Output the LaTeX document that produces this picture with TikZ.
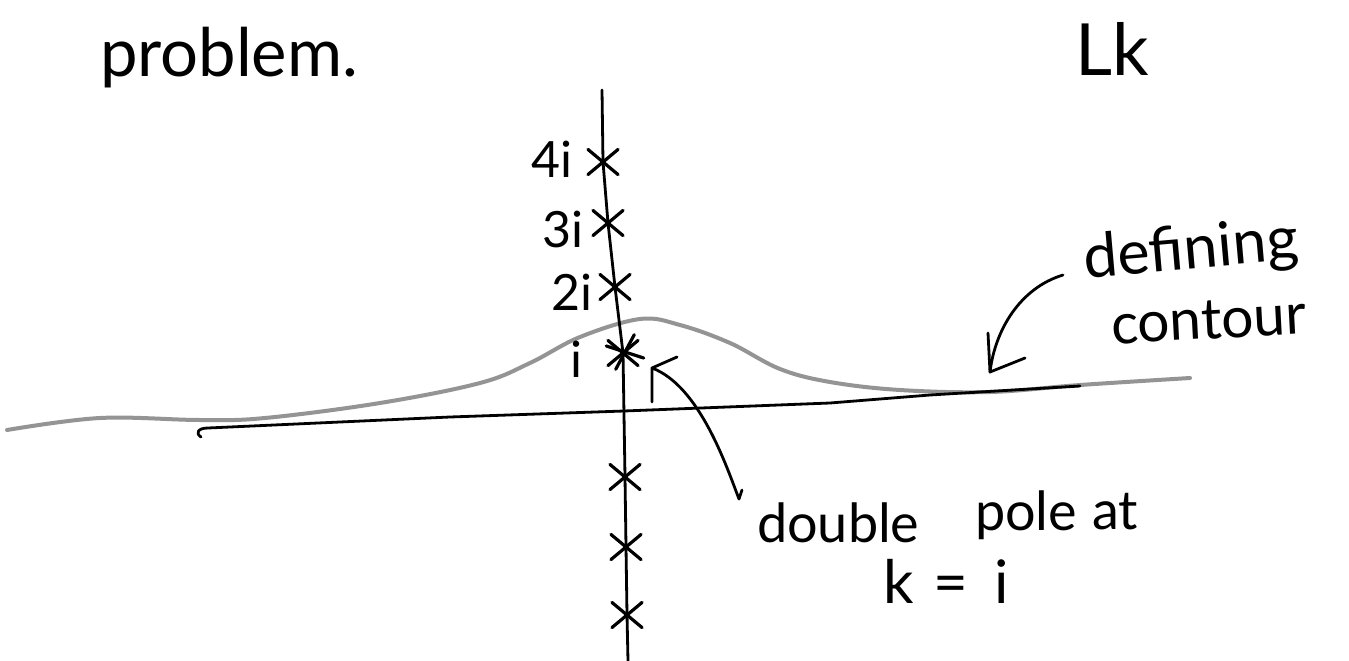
\documentclass[tikz,border=0pt]{standalone}
\usepackage{fontspec}
\setmainfont{Lato}
\usetikzlibrary{shapes.misc}
\tikzset{
  ink/.style={line width=2.8pt, line cap=round, line join=round, draw=black},
  txt/.style={inner sep=0pt, outer sep=0pt, text=black},
  lab/.style={txt, font=\fontsize{50}{50}\selectfont},
  polemark/.style={cross out, draw=black, line width=3.2pt, line cap=round,
    minimum width=27pt, minimum height=22pt, inner sep=0pt},
  contourline/.style={line width=4pt, draw=black!42, line cap=round, line join=round},
}
\begin{document}
\begin{tikzpicture}[x=1pt,y=-1pt]
\useasboundingbox (0,0) rectangle (1349,661);
\fill[white] (0,0) rectangle (1349,661);

% header texts
\node[txt, anchor=base west, font=\fontsize{67}{67}\selectfont] (problem) at (100,77) {problem.};
\node[txt, anchor=base, font=\fontsize{72}{72}\selectfont] (Lk) at (1112,75) {Lk};

% defining contour (grey)
\draw[contourline] plot[smooth, tension=0.6] coordinates {(7,430) (100,418) (200,420) (265,418) (380,403) (480,383) (530,363) (580,337) (640,319) (680,325) (730,343) (780,369) (830,382) (900,390) (990,392) (1080,385) (1190,378)};

% poles on the imaginary axis
\node[polemark] (p4) at (603,162) {};
\node[polemark] (p3) at (608,223) {};
\node[polemark] (p2) at (615,287) {};
\node[polemark] (p1) at (623,353) {};
\node[polemark, rotate=22] (p1b) at (625,352) {};
\node[polemark] (m1) at (625,477) {};
\node[polemark] (m2) at (626,547) {};
\node[polemark] (m3) at (627,615) {};

% vertical axis
\coordinate (vtop) at (602,90);
\coordinate (vbot) at (628,661);
\draw[ink] (vtop) -- (p4.center) -- (p3.center) -- (p2.center) -- (p1.center) -- (m1.center) -- (m2.center) -- (m3.center) -- (vbot);

% horizontal axis
\coordinate (hA) at (201,437);
\coordinate (hB) at (1080,386);
\draw[ink] (hA) .. controls (195,433) and (198,428) .. (208,428) -- (450,417) -- (624,411) -- (830,403) -- (930,395) -- (hB);

% pole labels
\node[lab, anchor=base east] (l4) at (572,177) {4i};
\node[lab, anchor=base east] (l3) at (583,247) {3i};
\node[lab, anchor=base east] (l2) at (592,310) {2i};
\node[lab, anchor=base east] (l1) at (582,377) {i};

% defining contour label and arrow
\node[txt, rotate=5, anchor=base west, font=\fontsize{61}{61}\selectfont] (defining) at (1085,278) {defining};
\node[txt, rotate=3, anchor=base west, font=\fontsize{57}{57}\selectfont] (contour) at (1112,344) {contour};
\coordinate (dA) at (1063,275);
\coordinate (dT) at (990,372);
\draw[ink] (dA) .. controls (1020,288) and (995,330) .. (dT);
\draw[ink] ([shift={(-2,-39)}]dT) -- (dT) -- ([shift={(35,-14)}]dT);

% double pole label and pointer
\node[txt, anchor=base west, font=\fontsize{54}{54}\selectfont] (double) at (757,542) {double};
\node[txt, anchor=base west, font=\fontsize{54}{54}\selectfont] (pole) at (975,530) {pole};
\node[txt, anchor=base west, font=\fontsize{54}{54}\selectfont] (at) at (1092,529) {at};
\node[txt, anchor=base west, font=\fontsize{60}{60}\selectfont] (keq) at (883,603) {k\hspace{20pt}=\hspace{26pt}i};
\coordinate (pS) at (739,499);
\coordinate (pT) at (652,368);
\draw[ink] ([shift={(3,-9)}]pS) -- (pS) .. controls (727,468) and (700,386) .. (pT);
\draw[ink] ([shift={(25,-11)}]pT) -- (pT) -- ([shift={(0,34)}]pT);
\end{tikzpicture}
\end{document}
